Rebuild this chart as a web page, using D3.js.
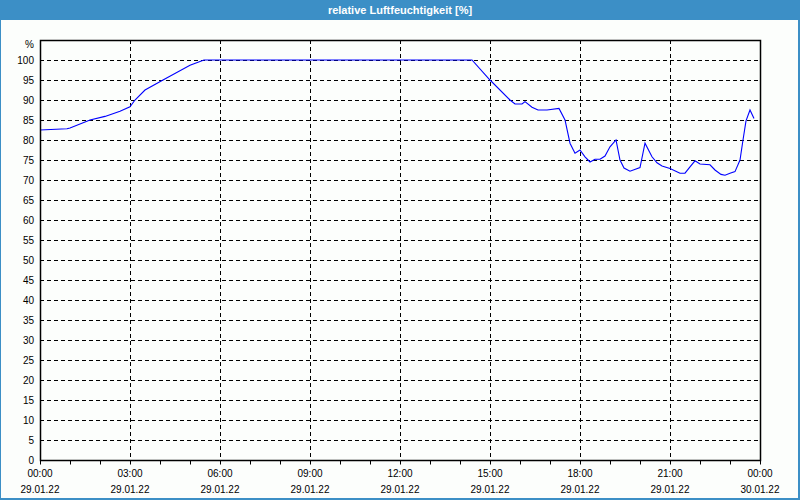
<!DOCTYPE html>
<html><head><meta charset="utf-8">
<script src="https://cdn.jsdelivr.net/npm/d3@7"></script>
<style>
html,body{margin:0;padding:0;background:#fff;}
svg{display:block;}
</style></head>
<body>
<svg id="chart" width="800" height="500"></svg>
<script>
const title = "relative Luftfeuchtigkeit [%]";
const times = ["00:00","00:54","01:00","01:40","02:10","02:40","03:00","03:10","03:30","04:06","05:00","05:28","14:24","15:00","15:40","15:50","16:04","16:10","16:24","16:36","16:54","17:18","17:30","17:40","17:50","18:00","18:10","18:20","18:30","18:40","18:50","19:00","19:12","19:20","19:28","19:40","20:00","20:10","20:24","20:34","20:44","21:00","21:20","21:30","21:40","21:50","22:00","22:20","22:30","22:42","22:50","23:00","23:10","23:20","23:26","23:32","23:40","23:48"];
const values = [82.5,82.8,83.0,85.0,85.9,87.2,88.3,90.0,92.5,95.0,98.7,100,100,95.0,90.0,89.0,89.0,89.6,88.2,87.5,87.5,87.9,85.0,79.2,76.7,77.5,75.8,74.5,75.2,75.2,76.0,78.3,80.0,75.0,73.0,72.2,73.1,79.2,75.8,74.3,73.5,72.9,71.7,71.7,73.3,74.8,74.0,73.8,72.5,71.4,71.2,71.7,72.1,75.0,80.0,84.8,87.5,85.4];
const yTicks = [0,5,10,15,20,25,30,35,40,45,50,55,60,65,70,75,80,85,90,95,100];
const xTickHours = [0,3,6,9,12,15,18,21,24];
const xTickTimes = ["00:00","03:00","06:00","09:00","12:00","15:00","18:00","21:00","00:00"];
const xTickDates = ["29.01.22","29.01.22","29.01.22","29.01.22","29.01.22","29.01.22","29.01.22","29.01.22","30.01.22"];

const svg = d3.select("#chart");
const W = 800, H = 500;
const m = {l:40, r:40, t:40, b:40};
const font = "'Liberation Sans', Arial, sans-serif";

// frame
svg.append("rect").attr("x",0).attr("y",0).attr("width",W).attr("height",H).attr("fill","#3c8fc6");
svg.append("rect").attr("x",1).attr("y",20).attr("width",W-3).attr("height",H-22).attr("fill","#fcfefc");
svg.append("text").attr("x",W/2).attr("y",14).attr("text-anchor","middle")
  .attr("fill","#fff").attr("font-family",font).attr("font-size",11).attr("font-weight","bold").text(title);

const toH = s => { const [h,mm]=s.split(":").map(Number); return h+mm/60; };
const x = d3.scaleLinear().domain([0,24]).range([m.l, W-m.r]);
const y = d3.scaleLinear().domain([0,105]).range([H-m.b, m.t]);

const g = svg.append("g");
// horizontal grid
g.selectAll(".hg").data(yTicks.filter(v=>v>0)).join("line")
  .attr("x1",x(0)).attr("x2",x(24)).attr("y1",d=>Math.round(y(d))+0.5).attr("y2",d=>Math.round(y(d))+0.5)
  .attr("stroke","#000").attr("stroke-dasharray","4,3");
// vertical grid
g.selectAll(".vg").data(xTickHours.filter(v=>v>0&&v<24)).join("line")
  .attr("x1",d=>Math.round(x(d))+0.5).attr("x2",d=>Math.round(x(d))+0.5).attr("y1",y(105)).attr("y2",y(0))
  .attr("stroke","#000").attr("stroke-dasharray","4,3");

// line
const data = times.map((t,i)=>({t:toH(t), v:values[i]}));
svg.append("path").datum(data)
  .attr("d", d3.line().x(d=>x(d.t)).y(d=>y(d.v)))
  .attr("fill","none").attr("stroke","#0000ff").attr("stroke-width",1.1);

// plot border
svg.append("rect").attr("x",x(0)+0.5).attr("y",y(105)+0.5).attr("width",x(24)-x(0)).attr("height",y(0)-y(105))
  .attr("fill","none").attr("stroke","#000").attr("stroke-width",1.5);

// y axis
const ya = d3.axisLeft(y).tickValues(yTicks).tickSize(0).tickPadding(6).tickFormat(d3.format("d"));
const yg = svg.append("g").attr("transform",`translate(${x(0)},0)`).call(ya);
yg.select(".domain").remove();
yg.selectAll("text").attr("font-family",font).attr("font-size",10).attr("fill","#000");
svg.append("text").attr("x",x(0)-6).attr("y",y(105)+8).attr("text-anchor","end")
  .attr("font-family",font).attr("font-size",10).attr("fill","#000").text("%");

// x axis minor ticks (hourly)
const xa = d3.axisBottom(x).ticks(24).tickSize(4).tickFormat("");
const xg = svg.append("g").attr("transform",`translate(0,${y(0)+0.5})`).call(xa);
xg.select(".domain").remove();
xg.selectAll("line").attr("stroke","#000");
// x labels
const lab = svg.append("g");
lab.selectAll(".xt").data(xTickHours).join("text")
  .attr("x",d=>x(d)).attr("y",y(0)+17).attr("text-anchor","middle")
  .attr("font-family",font).attr("font-size",10).attr("fill","#000").text((d,i)=>xTickTimes[i]);
lab.selectAll(".xd").data(xTickHours).join("text")
  .attr("x",d=>x(d)).attr("y",y(0)+33).attr("text-anchor","middle")
  .attr("font-family",font).attr("font-size",10).attr("fill","#000").text((d,i)=>xTickDates[i]);
</script>
</body></html>
